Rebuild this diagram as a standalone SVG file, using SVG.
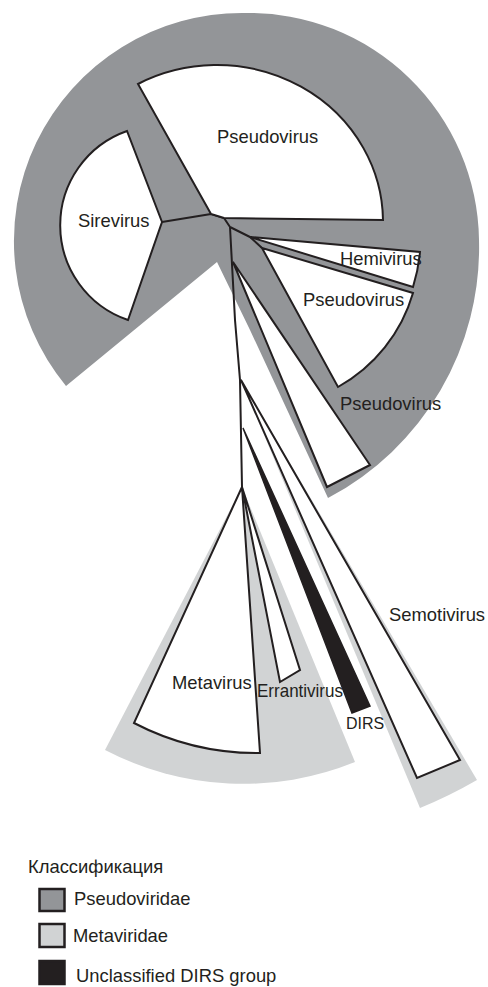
<svg xmlns="http://www.w3.org/2000/svg" width="488" height="987" viewBox="0 0 488 987">
<style>
.w{fill:#ffffff;stroke:#231f20;stroke-width:2;stroke-linejoin:miter}
.ln{fill:none;stroke:#231f20;stroke-width:2;stroke-linejoin:round}
.pg{fill:#939598}
.mg{fill:#d1d3d4}
text{font-family:"Liberation Sans",Arial,sans-serif;font-size:18.4px;fill:#231f20}
.box{stroke:#231f20;stroke-width:2.5}
</style>
<rect width="488" height="987" fill="#ffffff"/>
<g id="backgrounds">
<path class="pg" d="M66,386 A228,228 0 0 1 245,13 A230,230 0 0 1 479,240 A283,283 0 0 1 328,498 L250,330 L217,262 Z"/>
<path class="mg" d="M242,487 L105,750 A298,298 0 0 0 355,762 Z"/>
<path class="mg" d="M241,380 L420,808 A463,463 0 0 0 477,780 Z"/>
</g>
<g id="connectors">
<path class="ln" d="M162,222 L211,214 L224,218 L230,227"/>
<path class="ln" d="M230,227 L250,237 L262,248"/>
<path class="ln" d="M230,227 L235,320 L240,380 L242,487"/>
</g>
<g id="node-pseudovirus-1">
<path class="w" d="M211,214 L138,84 A166,157 0 0 1 383,220 L224,218 Z"/>
<text x="217" y="143">Pseudovirus</text>
</g>
<g id="node-sirevirus">
<path class="w" d="M162,222 L127,131 A100,100 0 0 0 128,320 Z"/>
<text x="78" y="227">Sirevirus</text>
</g>
<g id="node-hemivirus">
<path class="w" d="M250,237 L420,252 A170,170 0 0 1 413,287 Z"/>
<text x="340" y="265">Hemivirus</text>
</g>
<g id="node-pseudovirus-2">
<path class="w" d="M262,248 L413,293 A158,158 0 0 1 338,387 Z"/>
<text x="303" y="306">Pseudovirus</text>
</g>
<g id="node-pseudovirus-3">
<path class="w" d="M233,262 L370,465 L327,487 Z"/>
<text x="340" y="410">Pseudovirus</text>
</g>
<g id="node-semotivirus">
<path class="w" d="M241,380 L460,760 L417,778 Z"/>
<text x="389" y="621">Semotivirus</text>
</g>
<g id="node-dirs">
<path d="M243,428 L370,706 L352,713 Z" fill="#231f20" stroke="#231f20" stroke-width="1.5"/>
<text x="346" y="729" style="font-size:16px">DIRS</text>
</g>
<g id="node-metavirus">
<path class="w" d="M242,487 L134,723 A266,266 0 0 0 260,753 Z"/>
<text x="172" y="689">Metavirus</text>
</g>
<g id="node-errantivirus">
<path class="w" d="M242,487 L300,670 L280,682 Z"/>
<text x="257" y="697" textLength="86" lengthAdjust="spacingAndGlyphs">Errantivirus</text>
</g>
<g id="legend">
<text x="28" y="873">Классификация</text>
<rect class="box" x="39.5" y="889" width="25" height="22" fill="#939598"/>
<text x="74" y="905">Pseudoviridae</text>
<rect class="box" x="39.5" y="924" width="25" height="23" fill="#d1d3d4"/>
<text x="73" y="942">Metaviridae</text>
<rect class="box" x="39.5" y="961" width="25" height="23" fill="#231f20"/>
<text x="76" y="982">Unclassified DIRS group</text>
</g>
</svg>
